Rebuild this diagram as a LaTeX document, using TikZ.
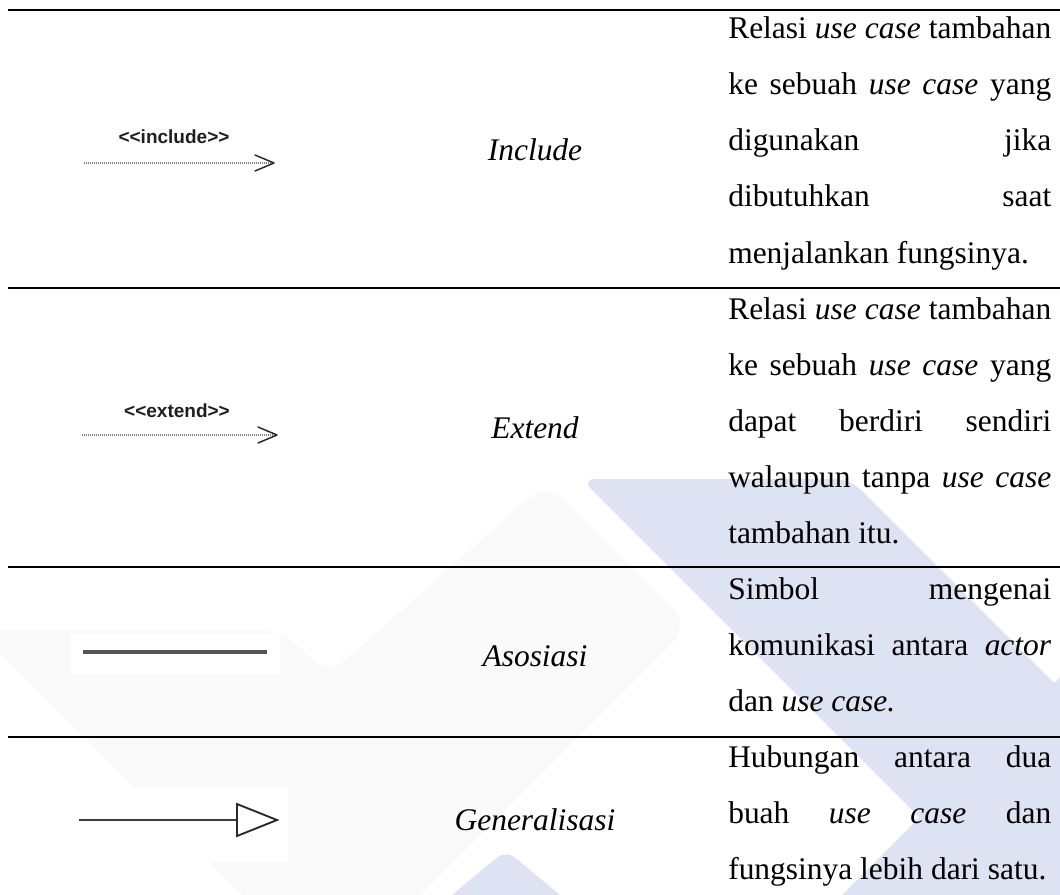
\documentclass[tikz,border=0pt]{standalone}
\usepackage{fontspec}
\setmainfont{Liberation Serif}
\newfontfamily\stereofont{Liberation Sans}
\usetikzlibrary{calc}
\definecolor{wmblue}{RGB}{221,227,242}
\definecolor{wmgray}{RGB}{249,249,249}
\definecolor{symline}{RGB}{85,85,85}
\definecolor{symdark}{RGB}{40,40,40}
% one justified line of the description column
\newcommand\jrow[1]{\makebox[242.25pt][s]{#1}}
\begin{document}
\begin{tikzpicture}[x=0.75pt,y=-0.75pt,
  rule/.style={line width=2pt,black},
  celltext/.style={anchor=base west,inner sep=0pt,font=\fontsize{23.6}{28}\selectfont},
  symlabel/.style={anchor=base,inner sep=0pt,font=\fontsize{23.6}{28}\selectfont\itshape},
  stereo/.style={anchor=base,inner sep=0pt,text=black!88,font=\stereofont\bfseries\fontsize{14.25}{17}\selectfont},
  dotline/.style={line width=0.8pt,gray,dash pattern=on 0.75pt off 0.75pt},
  openhead/.style={line width=1.1pt,symdark,line cap=round,line join=round},
  assoc/.style={line width=2.3pt,symline},
  genline/.style={line width=1.7pt,symdark!90},
  genhead/.style={line width=1.4pt,symdark,fill=white,line join=miter}
]
\useasboundingbox (0,0) rectangle (1060,895);
\fill[white] (0,0) rectangle (1060,895);

% watermark shapes
\begin{scope}
  \clip (0,0) rectangle (1060,895);
  \fill[wmgray,rounded corners=18pt] (-23,630) -- (282,630) -- (328,676) -- (547,482)
        -- (690,625) -- (368,947) -- (294,947) -- cycle;
  \fill[wmblue,rounded corners=11pt] (581,479) -- (850,479) -- (1400,1029) -- (1131,1029) -- cycle;
  \fill[wmblue] (1300,437) -- (1300,1100) -- (637,1100) -- cycle;
  \fill[wmblue,rounded corners=9pt] (506,850) -- (638,960) -- (374,960) -- cycle;
\end{scope}

% white backgrounds behind the symbol pictures
\fill[white] (70,634) rectangle (280,674);
\fill[white] (75,787) rectangle (288,862);

% table rules
\draw[rule] (8,10) -- (1060,10);
\draw[rule] (8,288) -- (1060,288);
\draw[rule] (8,567) -- (1060,567);
\draw[rule] (8,737) -- (1060,737);

% include symbol
\node[stereo] (incst) at (174,144) {\mbox{<}\mbox{<}include\mbox{>}\mbox{>}};
\coordinate (incA) at (84,163);
\coordinate (incB) at (274,163);
\draw[dotline] (incA) -- (incB);
\draw[openhead] ($(incB)+(-19,-8)$) -- (incB) -- ($(incB)+(-19,8)$);

% extend symbol
\node[stereo] (extst) at (177,417) {\mbox{<}\mbox{<}extend\mbox{>}\mbox{>}};
\coordinate (extA) at (82,435);
\coordinate (extB) at (277,435);
\draw[dotline] (extA) -- (extB);
\draw[openhead] ($(extB)+(-19,-8)$) -- (extB) -- ($(extB)+(-19,8)$);

% association symbol
\coordinate (asA) at (83,652);
\coordinate (asB) at (267,652);
\draw[assoc] (asA) -- (asB);

% generalisation symbol
\coordinate (genA) at (79,820);
\coordinate (genB) at (237,820);
\coordinate (genT) at (277,820);
\draw[genline] (genA) -- (genB);
\draw[genhead] ($(genB)+(0,-16)$) -- (genT) -- ($(genB)+(0,16)$) -- cycle;

% names
\node[symlabel] (lInc) at (535,161) {Include};
\node[symlabel] (lExt) at (535,438) {Extend};
\node[symlabel] (lAso) at (535,666) {Asosiasi};
\node[symlabel] (lGen) at (535,830) {Generalisasi};

% descriptions
\node[celltext] (r1)  at (728,39)  {\jrow{Relasi \textit{use case} tambahan}};
\node[celltext] (r2)  at (728,95)  {\jrow{ke sebuah \textit{use case} yang}};
\node[celltext] (r3)  at (728,151) {\jrow{digunakan jika}};
\node[celltext] (r4)  at (728,207) {\jrow{dibutuhkan saat}};
\node[celltext] (r5)  at (728,263) {menjalankan fungsinya.};
\node[celltext] (r6)  at (728,319) {\jrow{Relasi \textit{use case} tambahan}};
\node[celltext] (r7)  at (728,375) {\jrow{ke sebuah \textit{use case} yang}};
\node[celltext] (r8)  at (728,431) {\jrow{dapat berdiri sendiri}};
\node[celltext] (r9)  at (728,487) {\jrow{walaupun tanpa \textit{use case}}};
\node[celltext] (r10) at (728,543) {tambahan itu.};
\node[celltext] (r11) at (728,599) {\jrow{Simbol mengenai}};
\node[celltext] (r12) at (728,655) {\jrow{komunikasi antara \textit{actor}}};
\node[celltext] (r13) at (728,711) {dan \textit{use case.}};
\node[celltext] (r14) at (728,767) {\jrow{Hubungan antara dua}};
\node[celltext] (r15) at (728,823) {\jrow{buah \textit{use case} dan}};
\node[celltext] (r16) at (728,879) {fungsinya lebih dari satu.};
\end{tikzpicture}
\end{document}
